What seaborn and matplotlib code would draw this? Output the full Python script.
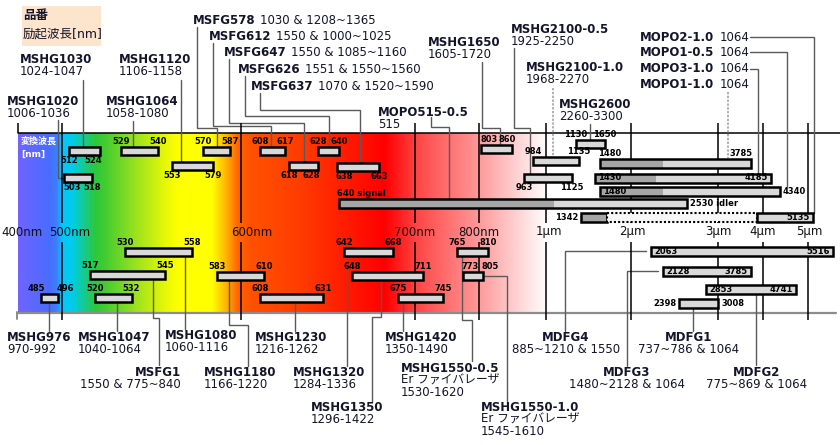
import numpy as np
import matplotlib
matplotlib.use("Agg")
import matplotlib.pyplot as plt
import seaborn as sns
from matplotlib.patches import Rectangle

# ---- 波長軸 (目盛り) ----
tick_wl = [400, 500, 600, 700, 800, 1000, 2000, 3000, 4000, 5000]
tick_txt = ['400nm', '500nm', '600nm', '700nm', '800nm', '1µm', '2µm', '3µm', '4µm', '5µm']

# ---- 変換波長バー (nm) ----
bar_lo = [512, 529, 570, 608, 628, 803, 1130, 553, 618, 638, 984, 503, 963,
          530, 642, 765, 517, 583, 648, 773, 485, 520, 608, 675,
          2063, 2128, 2853, 2398]
bar_hi = [524, 540, 587, 617, 640, 860, 1650, 579, 628, 663, 1135, 518, 1125,
          558, 668, 810, 545, 610, 711, 805, 496, 532, 631, 745,
          5516, 3785, 4741, 3008]

# ---- OPO (signal / idler) ----
opo_lo = [1480, 1430, 1480, 640, 1342]
opo_mid = [2128, 2090, 2128, 1040, 1680]
opo_hi = [3785, 4185, 4340, 2530, 5135]
opo_gap = [None, None, None, None, 3900]
opo_txt_lo = ['1480', '1430', '1480', '640 signal', '1342']
opo_txt_hi = ['3785', '4185', '4340', '2530 idler', '5135']

# ---- 品番ラベル ----
top_name = ['MSHG1030', 'MSHG1020', 'MSHG1120', 'MSHG1064', 'MOPO515-0.5',
            'MSHG1650', 'MSHG2100-0.5', 'MSHG2100-1.0', 'MSHG2600']
top_range = ['1024-1047', '1006-1036', '1106-1158', '1058-1080', '515',
             '1605-1720', '1925-2250', '1968-2270', '2260-3300']
sfg_name = ['MSFG578', 'MSFG612', 'MSFG647', 'MSFG626', 'MSFG637']
sfg_range = ['1030 & 1208~1365', '1550 & 1000~1025', '1550 & 1085~1160',
             '1551 & 1550~1560', '1070 & 1520~1590']
mopo_name = ['MOPO2-1.0', 'MOPO1-0.5', 'MOPO3-1.0', 'MOPO1-1.0']
mopo_pump = ['1064', '1064', '1064', '1064']
bot_name = ['MSHG976', 'MSHG1047', 'MSHG1080', 'MSHG1230', 'MSHG1420', 'MDFG4', 'MDFG1',
            'MSFG1', 'MSHG1180', 'MSHG1320', 'MSHG1550-0.5', 'MDFG3', 'MDFG2',
            'MSHG1350', 'MSHG1550-1.0']
bot_range = [['970-992'], ['1040-1064'], ['1060-1116'], ['1216-1262'], ['1350-1490'],
             ['885~1210 & 1550'], ['737~786 & 1064'],
             ['1550 & 775~840'], ['1166-1220'], ['1284-1336'],
             ['Er ファイバレーザ', '1530-1620'], ['1480~2128 & 1064'], ['775~869 & 1064'],
             ['1296-1422'], ['Er ファイバレーザ', '1545-1610']]

# ---- レイアウト (ピクセル) ----
# 手書きの波長軸: 波長 -> 横位置
axis_wl = [350, 400, 485, 496, 500, 503, 512, 517, 520, 524, 530, 540, 545, 553, 558,
           570, 579, 583, 587, 600, 608, 610, 617, 618, 628, 631, 638, 640, 642, 648, 663,
           668, 675, 700, 711, 745, 765, 773, 800, 805, 810, 860, 963, 984, 1000, 1125,
           1135, 1342, 1430, 1480, 1650, 2000, 2063, 2128, 2398, 2853, 3000, 3785, 4000,
           4185, 4340, 4741, 5000, 5135, 5516, 5700]
axis_px = [0, 18, 41, 58, 62, 64, 69, 90, 95, 100, 125, 158, 165, 172, 192,
           203, 213, 217, 230, 241, 260, 264, 285, 289, 318, 323, 337, 339, 344, 352, 379,
           393, 398, 415, 423, 443, 457, 463, 479, 483, 488, 512, 524, 533, 546, 572,
           579, 581, 595, 600, 605, 631, 651, 663, 679, 706, 718, 751, 763,
           771, 780, 796, 808, 813, 833, 840]
tick_dx = [4, 8, 11, 0, 0, 3, 1, 0, 0, 1]

bar_y = [151, 151, 151, 151, 151, 149, 144, 166, 166, 167, 161, 178, 178,
         252, 252, 252, 275, 276, 276, 276, 298, 298, 298, 298,
         251, 271, 289, 303]
# 数値ラベルの位置 (下限, 上限)
bar_note = [('b', 'bR'), ('a', 'a'), ('a', 'a'), ('a', 'a'), ('a', 'a'), ('aL', 'aR'),
            ('a', 'a'), ('b', 'b'), ('b', 'bR'), ('bL', 'b'), ('a', 'a'), ('bL', 'b'),
            ('b', 'b'),
            ('a', 'a'), ('a', 'a'), ('a', 'a'), ('a', 'a'), ('a', 'a'), ('a', 'a'),
            ('aL', 'aL'), ('aR', 'aL'), ('a', 'a'), ('a', 'a'), ('a', 'a'),
            ('il', 'ir'), ('il', 'ir'), ('il', 'ir'), ('ol', 'or')]
bar_wide = [False] * 24 + [True] * 4
opo_y = [163, 178, 191, 203, 217]
opo_note = [('al', 'ar'), ('il', 'ir'), ('il', 'or'), ('al', 'or'), ('ol', 'ir')]

top_xy = [(20, 53), (7, 95), (119, 53), (106, 95), (378, 106),
          (428, 36), (511, 23), (526, 61), (559, 98)]
sfg_xy = [(193, 14), (209, 30), (224, 46), (238, 63), (251, 80)]
mopo_y = [31, 46, 62, 78]
bot_xy = [(7, 331, 'left'), (78, 331, 'left'), (165, 329, 'left'), (255, 331, 'left'),
          (385, 331, 'left'), (566, 331, 'center'), (689, 331, 'center'),
          (181, 366, 'right'), (204, 366, 'left'), (293, 366, 'left'), (401, 362, 'left'),
          (627, 366, 'center'), (757, 366, 'center'),
          (311, 401, 'left'), (481, 401, 'left')]

leaders = [
    [(58, 120), (58, 178), (63, 178)],
    [(83, 80), (83, 147)],
    [(133, 121), (133, 147)],
    [(181, 80), (181, 162)],
    [(197, 27), (197, 128), (217, 128), (217, 147)],
    [(213, 43), (213, 126), (271, 126), (271, 147)],
    [(229, 59), (229, 123), (304, 123), (304, 162)],
    [(245, 76), (245, 116), (329, 116), (329, 147)],
    [(260, 93), (260, 110), (360, 110), (360, 163)],
    [(431, 117), (431, 127), (449, 127), (449, 199)],
    [(482, 62), (482, 128), (500, 128), (500, 145)],
    [(514, 48), (514, 128), (530, 128), (530, 174)],
    [(590, 124), (590, 140)],
    [(750, 37), (814, 37), (814, 213)],
    [(750, 52), (787, 52), (787, 186)],
    [(750, 69), (758, 69), (758, 173)],
    [(49, 303), (49, 331)],
    [(117, 303), (117, 331)],
    [(153, 280), (153, 318), (159, 318), (159, 365)],
    [(185, 257), (185, 329)],
    [(229, 281), (229, 325), (248, 325), (248, 366)],
    [(295, 303), (295, 331)],
    [(347, 257), (347, 366)],
    [(381, 281), (381, 317), (372, 317), (372, 402)],
    [(403, 303), (403, 331)],
    [(462, 257), (462, 320), (472, 320), (472, 361)],
    [(484, 276), (507, 276), (507, 401)],
    [(646, 251), (565, 251), (565, 331)],
    [(658, 271), (627, 271), (627, 366)],
    [(693, 309), (693, 331)],
    [(756, 295), (756, 365)],
]
dotted_leaders = [
    [(553, 88), (553, 156)],
    [(728, 92), (728, 158)],
]

grad_px = [18, 48, 56, 62, 72, 95, 105, 135, 165, 178, 212, 226, 238, 250, 300,
           385, 420, 480, 520, 548]
grad_col = ['#7064ff', '#4a6cff', '#3d7dff', '#00c8ff', '#00cce8', '#2cc83c', '#44cc30',
            '#9ae21e', '#e6f806', '#ffff00', '#ffff00', '#ffb400', '#ff6400', '#ff5200',
            '#ff3c00', '#ff0000', '#ff4a4a', '#ff9a9a', '#ffd6d6', '#ffffff']

# ---- 描画 ----
sns.set_theme(style="white")
plt.rcParams['font.family'] = ['DejaVu Sans', 'Noto Sans CJK JP']
ink = '#14142b'
gray_bar = '#d9d9d9'
dark_bar = '#a6a6a6'
fs = 8.5

fig = plt.figure(figsize=(8.4, 4.45), dpi=100)
lay = fig.add_axes([0, 0, 1, 1])
ax = fig.add_axes([0, 0, 1, 1])
for a in (lay, ax):
    a.axis('off')
    a.set_ylim(445, 0)
lay.set_xlim(0, 840)

def fwd(w):
    return np.interp(w, axis_wl, axis_px)

def inv(p):
    return np.interp(p, axis_px, axis_wl)

ax.set_xscale('function', functions=(fwd, inv))
ax.set_xlim(axis_wl[0], axis_wl[-1])

# スペクトル帯
xs = np.linspace(grad_px[0], grad_px[-1], 600)
rgb = np.array([matplotlib.colors.to_rgb(c) for c in grad_col])
img = np.stack([np.interp(xs, grad_px, rgb[:, k]) for k in range(3)], axis=-1)[None, :, :]
lay.imshow(img, extent=(grad_px[0], grad_px[-1], 312, 133), aspect='auto', zorder=0)
lay.set_xlim(0, 840)
lay.set_ylim(445, 0)
lay.plot([18, 840], [133, 133], color='black', lw=1.1, zorder=2)
lay.plot([17, 836], [313, 313], color='#8c8c8c', lw=1.6, zorder=2)
lay.plot([17, 17], [312, 319], color='#8c8c8c', lw=1.4, zorder=2)

# 目盛り線とラベル
for w, t, dx in zip(tick_wl, tick_txt, tick_dx):
    if w == 400:
        ax.vlines(w, 123, 133, color='black', lw=1.1, zorder=1)
    else:
        ax.vlines(w, 123, 223, color='black', lw=1.1, zorder=1)
        ax.vlines(w, 242, 320, color='black', lw=1.1, zorder=1)
    ax.annotate(t, xy=(w, 232), xytext=(dx, 0), textcoords='offset pixels',
                ha='center', va='center', fontsize=8.5, color='#111111', zorder=4)

# 引出線
for pts in leaders:
    px, py = zip(*pts)
    lay.plot(px, py, color='#5a5a5a', lw=1.0, zorder=3, solid_joinstyle='miter')
for pts in dotted_leaders:
    px, py = zip(*pts)
    lay.plot(px, py, color='#9a9a9a', lw=1.1, ls=(0, (1.5, 1)), zorder=3)

offs = {
    'a': (0, 1, 'center', 'bottom'), 'b': (0, -1, 'center', 'top'),
    'aL': (-1, 1, 'left', 'bottom'), 'aR': (4, 1, 'right', 'bottom'),
    'bL': (-1, -1, 'left', 'top'), 'bR': (2, -1, 'right', 'top'),
    'al': (-2, 1, 'left', 'bottom'), 'ar': (2, 1, 'right', 'bottom'),
    'il': (3, 0, 'left', 'center'), 'ir': (-3, 0, 'right', 'center'),
    'ol': (-3, 0, 'right', 'center'), 'or': (3, 0, 'left', 'center'),
}

def note(w, y, h, txt, pos):
    dx, sy, ha, va = offs[pos]
    dy = sy * (h / 2 + 1.0)
    ax.annotate(txt, xy=(w, y), xytext=(dx, dy), textcoords='offset pixels',
                ha=ha, va=va, fontsize=6, fontweight='bold', color='black', zorder=6)

for lo, hi, y, (p1, p2), wide in zip(bar_lo, bar_hi, bar_y, bar_note, bar_wide):
    h = 9.0 if wide else 8.0
    ax.barh(y, hi - lo, left=lo, height=h, color=gray_bar, edgecolor='black',
            linewidth=1.8, zorder=5)
    note(lo, y, h, str(lo), p1)
    note(hi, y, h, str(hi), p2)

for lo, mid, hi, gap, y, (p1, p2), t1, t2 in zip(opo_lo, opo_mid, opo_hi, opo_gap, opo_y,
                                                opo_note, opo_txt_lo, opo_txt_hi):
    h = 9.0
    ax.barh(y, mid - lo, left=lo, height=h, color=dark_bar, lw=0, zorder=5)
    if gap is None:
        ax.barh(y, hi - mid, left=mid, height=h, color=gray_bar, lw=0, zorder=5)
        ax.barh(y, hi - lo, left=lo, height=h, fill=False, edgecolor='black',
                linewidth=1.8, zorder=5)
    else:
        ax.barh(y, mid - lo, left=lo, height=h, fill=False, edgecolor='black',
                linewidth=1.8, zorder=5)
        ax.barh(y, gap - mid, left=mid, height=h, color='#f7f7f7', edgecolor='black',
                linewidth=1.5, linestyle=(0, (1, 1)), zorder=5)
        ax.barh(y, hi - gap, left=gap, height=h, color=gray_bar, edgecolor='black',
                linewidth=1.8, zorder=5)
    note(lo, y, h, t1, p1)
    note(hi, y, h, t2, p2)

# 凡例ボックス
lay.add_patch(Rectangle((22, 6), 79, 40, facecolor='#fde4cc', edgecolor='none', zorder=2))
lay.text(23, 16, '品番', fontsize=9, fontweight='bold', color=ink, va='center', zorder=4)
lay.text(23, 34, '励起波長[nm]', fontsize=9, color=ink, va='center', zorder=4)
lay.text(21, 137, '変換波長\n[nm]', fontsize=6.5, fontweight='bold', color='white',
         va='top', linespacing=1.5, zorder=4)

# 品番ラベル (上)
for n, r, (x, y) in zip(top_name, top_range, top_xy):
    lay.text(x, y, n, fontsize=fs, fontweight='bold', color=ink, va='top', zorder=4)
    lay.text(x, y + 12, r, fontsize=fs, color=ink, va='top', zorder=4)
for n, r, (x, y) in zip(sfg_name, sfg_range, sfg_xy):
    t = lay.text(x, y, n, fontsize=fs, fontweight='bold', color=ink, va='top', zorder=4)
    lay.annotate(r, xy=(1, 0), xycoords=t, xytext=(3, 0), textcoords='offset points',
                 fontsize=fs, color=ink, va='bottom', zorder=4)
for n, r, y in zip(mopo_name, mopo_pump, mopo_y):
    lay.text(640, y, n, fontsize=fs, fontweight='bold', color=ink, va='top', zorder=4)
    lay.text(720, y, r, fontsize=fs, color=ink, va='top', zorder=4)

# 品番ラベル (下)
for n, rs, (x, y, ha) in zip(bot_name, bot_range, bot_xy):
    lay.text(x, y, n, fontsize=fs, fontweight='bold', color=ink, va='top', ha=ha, zorder=4)
    for k, r in enumerate(rs):
        lay.text(x, y + 12 * (k + 1), r, fontsize=fs, color=ink, va='top', ha=ha, zorder=4)

fig.savefig('out.png', dpi=100)
